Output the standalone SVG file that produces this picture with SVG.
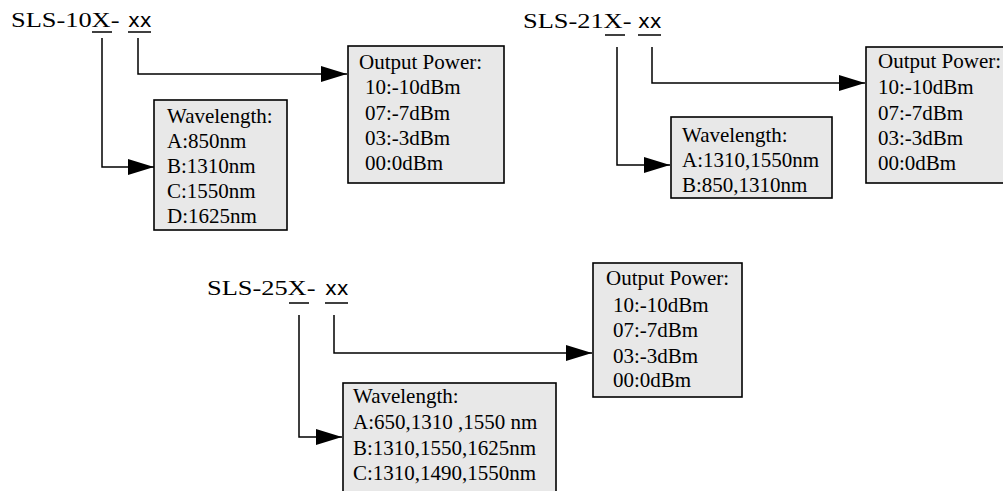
<svg xmlns="http://www.w3.org/2000/svg" width="1003" height="491" viewBox="0 0 1003 491">
<style>
.bg{fill:#ffffff}
.box{fill:#e8e8e8;stroke:#000;stroke-width:1.6}
.t{font-family:"Liberation Serif","Times New Roman",serif;font-size:21px;fill:#000}
.ti{font-family:"Liberation Serif","Times New Roman",serif;font-size:22px;fill:#000}
.sx{font-family:"DejaVu Sans","Liberation Sans",sans-serif;font-size:20px;fill:#000}
.ul{stroke:#000;stroke-width:1.5;fill:none}
.con{stroke:#000;stroke-width:1.5;fill:none;marker-end:url(#ah)}
</style>
<defs>
<marker id="ah" markerUnits="userSpaceOnUse" markerWidth="26" markerHeight="16" refX="26" refY="8" orient="auto">
<path d="M0,0 L26,8 L0,16 z" fill="#000"/>
</marker>
</defs>
<rect class="bg" x="0" y="0" width="1003" height="491"/>

<g id="title1">
<text class="ti" transform="translate(11,27) scale(1.2,1)">SLS-10X-</text>
<text class="sx" x="128" y="27">xx</text>
<line class="ul" x1="92" y1="32" x2="112" y2="32"/>
<line class="ul" x1="128" y1="32" x2="151" y2="32"/>
</g>

<g id="title2">
<text class="ti" transform="translate(523,28) scale(1.2,1)">SLS-21X-</text>
<text class="sx" x="638" y="28">xx</text>
<line class="ul" x1="605" y1="35" x2="625" y2="35"/>
<line class="ul" x1="638" y1="35" x2="661" y2="35"/>
</g>

<g id="title3">
<text class="ti" transform="translate(207,295) scale(1.2,1)">SLS-25X-</text>
<text class="sx" x="325" y="295">xx</text>
<line class="ul" x1="289" y1="303" x2="309" y2="303"/>
<line class="ul" x1="325" y1="303" x2="348" y2="303"/>
</g>

<g id="wave1">
<rect class="box" x="154" y="100" width="133" height="130"/>
<text class="t" x="167" y="123">Wavelength:</text>
<text class="t" x="167" y="148">A:850nm</text>
<text class="t" x="167" y="173">B:1310nm</text>
<text class="t" x="167" y="198">C:1550nm</text>
<text class="t" x="167" y="223">D:1625nm</text>
</g>

<g id="power1">
<rect class="box" x="348" y="46" width="156" height="137"/>
<text class="t" x="359" y="69">Output Power:</text>
<text class="t" x="365" y="94">10:-10dBm</text>
<text class="t" x="365" y="120">07:-7dBm</text>
<text class="t" x="365" y="145">03:-3dBm</text>
<text class="t" x="365" y="170">00:0dBm</text>
</g>

<g id="wave2">
<rect class="box" x="671" y="117" width="161" height="81"/>
<text class="t" x="682" y="142">Wavelength:</text>
<text class="t" x="682" y="167">A:1310,1550nm</text>
<text class="t" x="682" y="192">B:850,1310nm</text>
</g>

<g id="power2">
<rect class="box" x="866" y="47" width="150" height="136"/>
<text class="t" x="878" y="68">Output Power:</text>
<text class="t" x="878" y="94">10:-10dBm</text>
<text class="t" x="878" y="120">07:-7dBm</text>
<text class="t" x="878" y="145">03:-3dBm</text>
<text class="t" x="878" y="170">00:0dBm</text>
</g>

<g id="wave3">
<rect class="box" x="343" y="383" width="213" height="120"/>
<text class="t" x="353" y="403">Wavelength:</text>
<text class="t" x="353" y="429" xml:space="preserve">A:650,1310 ,1550 nm</text>
<text class="t" x="353" y="455">B:1310,1550,1625nm</text>
<text class="t" x="353" y="480">C:1310,1490,1550nm</text>
</g>

<g id="power3">
<rect class="box" x="593" y="263" width="149" height="134"/>
<text class="t" x="606" y="285">Output Power:</text>
<text class="t" x="613" y="312">10:-10dBm</text>
<text class="t" x="613" y="337">07:-7dBm</text>
<text class="t" x="613" y="363">03:-3dBm</text>
<text class="t" x="613" y="387">00:0dBm</text>
</g>

<g id="connectors">
<path class="con" d="M102,38 V167 H154"/>
<path class="con" d="M138,38 V74 H347"/>
<path class="con" d="M617,47 V165 H670"/>
<path class="con" d="M652,47 V83 H865"/>
<path class="con" d="M299,315 V437 H342"/>
<path class="con" d="M334,315 V353 H592"/>
</g>
</svg>
